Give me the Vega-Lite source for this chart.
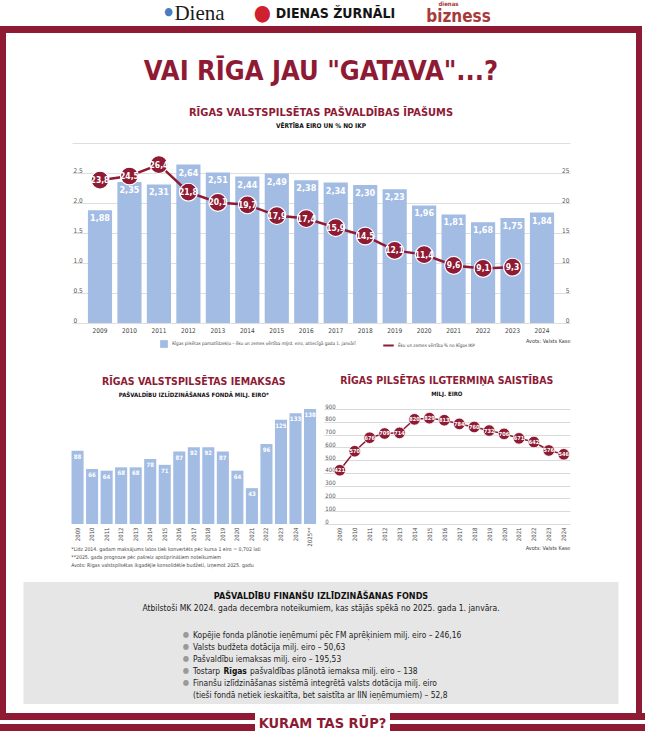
{
  "$schema": "https://vega.github.io/schema/vega-lite/v6.json",
  "padding": 0,
  "background": "white",
  "spacing": 0,
  "config": {
    "font": "DejaVu Sans Condensed, DejaVu Sans, sans-serif",
    "view": {"stroke": null},
    "locale": {"number": {"decimal": ",", "thousands": " ", "grouping": [3], "currency": ["", " €"]}}
  },
  "vconcat": [
    {
      "width": 645, "height": 26,
      "data": {"values": [{}]},
      "layer": [
        {"mark": {"type": "text", "text": "●", "fontSize": 11, "color": "#4a7cc0", "dx": -154, "dy": -1}},
        {"mark": {"type": "text", "text": "Diena", "font": "Liberation Serif", "fontSize": 21, "color": "#1a1a1a", "dx": -123, "dy": 1}},
        {"mark": {"type": "text", "text": "●", "fontSize": 22, "color": "#d01f2f", "dx": -60, "dy": 0}},
        {"mark": {"type": "text", "text": "DIENAS ŽURNĀLI", "fontSize": 14, "fontWeight": "bold", "color": "#141414", "dx": 13, "dy": 1}},
        {"mark": {"type": "text", "text": "dienas", "fontSize": 6, "fontWeight": "bold", "color": "#a83a3a", "dx": 126, "dy": -9}},
        {"mark": {"type": "text", "text": "bizness", "fontSize": 17, "fontWeight": "bold", "color": "#a83a3a", "dx": 136, "dy": 4}}
      ]
    },
    {
      "width": 642, "height": 7,
      "data": {"values": [{}]},
      "mark": {"type": "rect", "color": "#8e1a34"},
      "encoding": {}
    },
    {
      "spacing": 0,
      "hconcat": [
        {
          "width": 6, "height": 680,
          "data": {"values": [{}]},
          "mark": {"type": "rect", "color": "#8e1a34"},
          "encoding": {}
        },
        {
          "center": true,
          "spacing": 0,
          "vconcat": [
            {
              "width": 630, "height": 110,
              "data": {"values": [{}]},
              "layer": [
                {"mark": {"type": "text", "text": "VAI RĪGA JAU \"GATAVA\"...?", "fontSize": 27, "fontWeight": "bold", "color": "#8e1a34", "dy": -16}},
                {"mark": {"type": "text", "text": "RĪGAS VALSTSPILSĒTAS PAŠVALDĪBAS ĪPAŠUMS", "fontSize": 11, "fontWeight": "bold", "color": "#8e1a34", "dy": 25}},
                {"mark": {"type": "text", "text": "VĒRTĪBA EIRO UN % NO IKP", "fontSize": 6.5, "fontWeight": "bold", "color": "#111111", "dy": 38}}
              ]
            },
            {
              "width": 498, "height": 180,
              "data": {"values": [
                {"year": "2009", "assets": 1.88, "gdp": 23.8},
                {"year": "2010", "assets": 2.35, "gdp": 24.5},
                {"year": "2011", "assets": 2.31, "gdp": 26.4},
                {"year": "2012", "assets": 2.64, "gdp": 21.8},
                {"year": "2013", "assets": 2.51, "gdp": 20.1},
                {"year": "2014", "assets": 2.44, "gdp": 19.7},
                {"year": "2015", "assets": 2.49, "gdp": 17.9},
                {"year": "2016", "assets": 2.38, "gdp": 17.4},
                {"year": "2017", "assets": 2.34, "gdp": 15.9},
                {"year": "2018", "assets": 2.30, "gdp": 14.5},
                {"year": "2019", "assets": 2.23, "gdp": 12.1},
                {"year": "2020", "assets": 1.96, "gdp": 11.4},
                {"year": "2021", "assets": 1.81, "gdp": 9.6},
                {"year": "2022", "assets": 1.68, "gdp": 9.1},
                {"year": "2023", "assets": 1.75, "gdp": 9.3},
                {"year": "2024", "assets": 1.84, "gdp": null}
              ]},
              "encoding": {
                "x": {
                  "field": "year", "type": "ordinal",
                  "scale": {"paddingInner": 0.18, "paddingOuter": 0.54},
                  "axis": {
                    "labelAngle": 0, "labelFontSize": 6.5, "labelColor": "#444444", "ticks": false, "domain": false, "labelPadding": 4,
                    "title": "Avots: Valsts Kase", "titleAnchor": "end", "titleFontSize": 5.5, "titleFontWeight": "normal", "titleColor": "#444444", "titlePadding": 5
                  }
                }
              },
              "layer": [
                {
                  "mark": {"type": "bar"},
                  "encoding": {
                    "y": {
                      "field": "assets", "type": "quantitative",
                      "scale": {"domain": [0, 3], "nice": false},
                      "axis": {
                        "values": [0, 0.5, 1, 1.5, 2, 2.5, 3], "format": ".1f",
                        "labelExpr": "datum.value == 0 ? '0' : (datum.value == 3 ? '' : replace(datum.label, ',', '.'))",
                        "grid": true, "gridColor": "#d6d6d6", "gridWidth": 0.8, "domain": false, "ticks": false,
                        "labelAlign": "left", "labelBaseline": "bottom", "labelPadding": -1,
                        "labelFontSize": 6.5, "labelColor": "#555555", "title": null
                      }
                    },
                    "color": {
                      "datum": "Rīgas pilsētas pamatlīdzekļu – ēku un zemes vērtība mljrd. eiro, attiecīgā gada 1. janvārī",
                      "scale": {"range": ["#a2bce3"]},
                      "legend": {"orient": "none", "legendX": 159, "legendY": 339, "padding": 0, "title": null, "labelFontSize": 4.6, "labelLimit": 400, "labelColor": "#444444", "labelOffset": 3, "symbolType": "square", "symbolSize": 60, "symbolOpacity": 1}
                    }
                  }
                },
                {
                  "mark": {"type": "line", "strokeWidth": 2.5},
                  "encoding": {
                    "y": {
                      "field": "gdp", "type": "quantitative",
                      "scale": {"domain": [0, 30], "nice": false},
                      "axis": {"orient": "right", "values": [0, 5, 10, 15, 20, 25], "grid": false, "domain": false, "ticks": false, "labelAlign": "right", "labelBaseline": "bottom", "labelPadding": -1, "labelFontSize": 6.5, "labelColor": "#555555", "title": null}
                    },
                    "stroke": {
                      "datum": "Ēku un zemes vērtība % no Rīgas IKP",
                      "scale": {"range": ["#8e1a34"]},
                      "legend": {"orient": "none", "legendX": 382, "legendY": 339, "padding": 0, "title": null, "labelFontSize": 4.6, "labelLimit": 400, "labelColor": "#444444", "labelOffset": 3, "symbolStrokeWidth": 2, "symbolSize": 110}
                    }
                  }
                },
                {
                  "mark": {"type": "circle", "size": 320, "opacity": 1, "color": "#8e1a34", "stroke": "white", "strokeWidth": 1.2},
                  "encoding": {
                    "y": {"field": "gdp", "type": "quantitative", "scale": {"domain": [0, 30], "nice": false}, "axis": null}
                  }
                },
                {
                  "mark": {"type": "text", "color": "white", "fontWeight": "bold", "fontSize": 8.5},
                  "encoding": {
                    "y": {"field": "gdp", "type": "quantitative", "scale": {"domain": [0, 30], "nice": false}, "axis": null},
                    "text": {"field": "gdp", "type": "quantitative", "format": ".1f"}
                  }
                },
                {
                  "mark": {"type": "text", "baseline": "top", "dy": 4, "color": "white", "fontWeight": "bold", "fontSize": 9},
                  "encoding": {
                    "y": {"field": "assets", "type": "quantitative", "scale": {"domain": [0, 3], "nice": false}, "axis": null},
                    "text": {"field": "assets", "type": "quantitative", "format": ".2f"}
                  }
                }
              ],
              "resolve": {"scale": {"y": "independent"}}
            },
            {
              "width": 10, "height": 31,
              "data": {"values": [{}]},
              "mark": {"type": "rect", "opacity": 0},
              "encoding": {}
            },
            {
              "bounds": "flush",
              "spacing": 7,
              "hconcat": [
                {
                  "width": 246, "height": 120,
                  "title": {
                    "text": "RĪGAS VALSTSPILSĒTAS IEMAKSAS", "subtitle": "PAŠVALDĪBU IZLĪDZINĀŠANAS FONDĀ MILJ. EIRO*",
                    "anchor": "middle", "fontSize": 10.5, "fontWeight": "bold", "color": "#8e1a34",
                    "subtitleFontSize": 6, "subtitleFontWeight": "bold", "subtitleColor": "#111111", "subtitlePadding": 5, "offset": 6
                  },
                  "data": {"values": [
                    {"year": "2009", "v": 88}, {"year": "2010", "v": 66}, {"year": "2011", "v": 64},
                    {"year": "2012", "v": 68}, {"year": "2013", "v": 68}, {"year": "2014", "v": 78},
                    {"year": "2015", "v": 71}, {"year": "2016", "v": 87}, {"year": "2017", "v": 92},
                    {"year": "2018", "v": 92}, {"year": "2019", "v": 87}, {"year": "2020", "v": 64},
                    {"year": "2021", "v": 43}, {"year": "2022", "v": 96}, {"year": "2023", "v": 125},
                    {"year": "2024", "v": 133}, {"year": "2025**", "v": 138}
                  ]},
                  "encoding": {
                    "x": {
                      "field": "year", "type": "ordinal",
                      "scale": {"paddingInner": 0.17, "paddingOuter": 0.05},
                      "axis": {
                        "labelAngle": -90, "labelFontSize": 6, "labelColor": "#444444", "ticks": false, "domain": false, "labelPadding": 3,
                        "title": ["*Līdz 2014. gadam maksājums latos tiek konvertēts pēc kursa 1 eiro = 0,702 lati", "**2025. gada prognoze pēc pašreiz apstiprinātiem noteikumiem", "Avots: Rīgas valstspilsētas ikgadējie konsolidētie budžeti, izņemot 2025. gadu"],
                        "titleAnchor": "start", "titleAlign": "left", "titleFontSize": 5.2, "titleFontWeight": "normal", "titleColor": "#444444", "titlePadding": 0, "titleLineHeight": 8
                      }
                    },
                    "y": {"field": "v", "type": "quantitative", "scale": {"domain": [0, 144], "nice": false}, "axis": null}
                  },
                  "layer": [
                    {"mark": {"type": "bar", "color": "#a2bce3"}},
                    {
                      "mark": {"type": "text", "baseline": "top", "dy": 3, "color": "white", "fontWeight": "bold", "fontSize": 6},
                      "encoding": {"text": {"field": "v", "type": "quantitative"}}
                    }
                  ]
                },
                {
                  "width": 246, "height": 120,
                  "title": {
                    "text": "RĪGAS PILSĒTAS ILGTERMIŅA SAISTĪBAS", "subtitle": "MILJ. EIRO",
                    "anchor": "middle", "fontSize": 10.5, "fontWeight": "bold", "color": "#8e1a34",
                    "subtitleFontSize": 6, "subtitleFontWeight": "bold", "subtitleColor": "#111111", "subtitlePadding": 5, "offset": 6
                  },
                  "data": {"values": [
                    {"year": "2009", "v": 421}, {"year": "2010", "v": 570}, {"year": "2011", "v": 676},
                    {"year": "2012", "v": 709}, {"year": "2013", "v": 714}, {"year": "2014", "v": 820},
                    {"year": "2015", "v": 829}, {"year": "2016", "v": 813}, {"year": "2017", "v": 784},
                    {"year": "2018", "v": 760}, {"year": "2019", "v": 732}, {"year": "2020", "v": 706},
                    {"year": "2021", "v": 671}, {"year": "2022", "v": 642}, {"year": "2023", "v": 576},
                    {"year": "2024", "v": 546}
                  ]},
                  "encoding": {
                    "x": {
                      "field": "year", "type": "ordinal",
                      "scale": {"type": "point", "padding": 0.737, "align": 0.727},
                      "axis": {
                        "labelAngle": -90, "labelFontSize": 6, "labelColor": "#444444", "ticks": false, "domain": false, "labelPadding": 3,
                        "title": "Avots: Valsts Kase", "titleAnchor": "end", "titleFontSize": 5.5, "titleFontWeight": "normal", "titleColor": "#444444", "titlePadding": 5
                      }
                    },
                    "y": {
                      "field": "v", "type": "quantitative",
                      "scale": {"domain": [0, 940], "nice": false},
                      "axis": {
                        "values": [0, 100, 200, 300, 400, 500, 600, 700, 800, 900],
                        "grid": true, "gridColor": "#d0d0d0", "gridWidth": 0.8, "domain": false, "ticks": false,
                        "labelAlign": "left", "labelBaseline": "bottom", "labelPadding": -1, "labelFontSize": 6, "labelColor": "#555555", "title": null
                      }
                    }
                  },
                  "layer": [
                    {"mark": {"type": "line", "color": "#8e1a34", "strokeWidth": 1.5}},
                    {"mark": {"type": "circle", "size": 135, "opacity": 1, "color": "#8e1a34", "stroke": "white", "strokeWidth": 0.8}},
                    {
                      "mark": {"type": "text", "color": "white", "fontWeight": "bold", "fontSize": 5.6},
                      "encoding": {"text": {"field": "v", "type": "quantitative"}}
                    }
                  ]
                }
              ]
            },
            {
              "width": 10, "height": 14,
              "data": {"values": [{}]},
              "mark": {"type": "rect", "opacity": 0},
              "encoding": {}
            },
            {
              "width": 595, "height": 122,
              "view": {"fill": "#e6e6e6", "stroke": null},
              "data": {"values": [
                {"k": "b1", "t": "Kopējie fonda plānotie ieņēmumi pēc FM aprēķiniem milj. eiro – 246,16"},
                {"k": "b2", "t": "Valsts budžeta dotācija milj. eiro – 50,63"},
                {"k": "b3", "t": "Pašvaldību iemaksas milj. eiro – 195,53"},
                {"k": "b4", "t": "Tostarp"},
                {"k": "b5", "t": "Finanšu izlīdzināšanas sistēmā integrētā valsts dotācija milj. eiro"},
                {"k": "b6", "t": "(tieši fondā netiek ieskaitīta, bet saistīta ar IIN ieņēmumiem) – 52,8"}
              ]},
              "layer": [
                {
                  "data": {"values": [{}]},
                  "mark": {"type": "text", "text": "PAŠVALDĪBU FINANŠU IZLĪDZINĀŠANAS FONDS", "fontSize": 9, "fontWeight": "bold", "color": "#111111", "dy": -47}
                },
                {
                  "data": {"values": [{}]},
                  "mark": {"type": "text", "text": "Atbilstoši MK 2024. gada decembra noteikumiem, kas stājās spēkā no 2025. gada 1. janvāra.", "fontSize": 8.5, "color": "#1a1a1a", "dy": -35}
                },
                {
                  "transform": [{"filter": "datum.k != 'b6'"}],
                  "mark": {"type": "text", "text": "●", "fontSize": 8, "color": "#9a9a9a", "dx": -135},
                  "encoding": {"y": {"field": "k", "type": "nominal", "scale": {"type": "point", "padding": 0, "domain": ["b1", "b2", "b3", "b4", "b5", "b6"], "range": [53, 113]}, "axis": null}}
                },
                {
                  "mark": {"type": "text", "align": "left", "fontSize": 8.4, "color": "#222222", "dx": -128},
                  "encoding": {
                    "y": {"field": "k", "type": "nominal", "scale": {"type": "point", "padding": 0, "domain": ["b1", "b2", "b3", "b4", "b5", "b6"], "range": [53, 113]}, "axis": null},
                    "text": {"field": "t", "type": "nominal"}
                  }
                },
                {
                  "transform": [{"filter": "datum.k == 'b4'"}],
                  "mark": {"type": "text", "text": "Rīgas", "align": "left", "fontSize": 8.4, "fontWeight": "bold", "color": "#111111", "dx": -97.5},
                  "encoding": {"y": {"field": "k", "type": "nominal", "scale": {"type": "point", "padding": 0, "domain": ["b1", "b2", "b3", "b4", "b5", "b6"], "range": [53, 113]}, "axis": null}}
                },
                {
                  "transform": [{"filter": "datum.k == 'b4'"}],
                  "mark": {"type": "text", "text": "pašvaldības plānotā iemaksa milj. eiro – 138", "align": "left", "fontSize": 8.4, "color": "#222222", "dx": -71},
                  "encoding": {"y": {"field": "k", "type": "nominal", "scale": {"type": "point", "padding": 0, "domain": ["b1", "b2", "b3", "b4", "b5", "b6"], "range": [53, 113]}, "axis": null}}
                }
              ]
            }
          ]
        },
        {
          "width": 6, "height": 680,
          "data": {"values": [{}]},
          "mark": {"type": "rect", "color": "#8e1a34"},
          "encoding": {}
        }
      ]
    },
    {
      "spacing": 0,
      "hconcat": [
        {
          "width": 255, "height": 22,
          "data": {"values": [{"s": "a"}, {"s": "b"}]},
          "mark": {"type": "rect", "color": "#8e1a34"},
          "encoding": {"y": {"field": "s", "type": "nominal", "scale": {"type": "band", "paddingInner": 0.364, "paddingOuter": 0.182, "align": 0}, "axis": null}}
        },
        {
          "width": 135, "height": 22,
          "data": {"values": [{}]},
          "mark": {"type": "text", "text": "KURAM TAS RŪP?", "fontSize": 14.5, "fontWeight": "bold", "color": "#8e1a34"}
        },
        {
          "width": 255, "height": 22,
          "data": {"values": [{"s": "a"}, {"s": "b"}]},
          "mark": {"type": "rect", "color": "#8e1a34"},
          "encoding": {"y": {"field": "s", "type": "nominal", "scale": {"type": "band", "paddingInner": 0.364, "paddingOuter": 0.182, "align": 0}, "axis": null}}
        }
      ]
    }
  ]
}
